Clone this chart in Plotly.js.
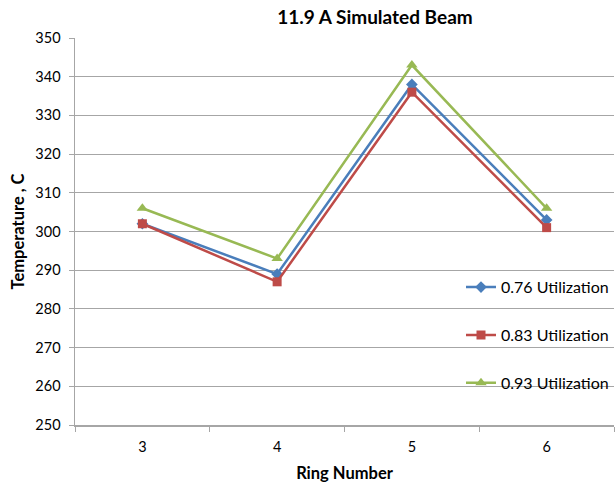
<!DOCTYPE html>
<html>
<head>
<meta charset="utf-8">
<script src="https://cdn.plot.ly/plotly-3.0.1.min.js"></script>
<style>html,body{margin:0;padding:0;background:#fff;}#chart{width:615px;height:483px;}</style>
</head>
<body>
<div id="chart"></div>
<script>
const rings = ['3', '4', '5', '6'];
const util076 = [302, 289, 338, 303];
const util083 = [302, 287, 336, 301];
const util093 = [306, 293, 343, 306];
const seriesNames = ['0.76 Utilization', '0.83 Utilization', '0.93 Utilization'];
const yTicks = [250, 260, 270, 280, 290, 300, 310, 320, 330, 340, 350];

const FONT = 'Lato, "Open Sans", "Liberation Sans", sans-serif';

const traces = [
  {x: rings, y: util076, name: seriesNames[0], legendgroup: 'a', mode: 'lines+markers', type: 'scatter',
   line: {color: '#4A7EBB', width: 2.5}, marker: {symbol: 'diamond', size: 9, color: '#4A7EBB'}},
  {x: rings, y: util083, name: seriesNames[1], legendgroup: 'b', mode: 'lines+markers', type: 'scatter',
   line: {color: '#BE4B48', width: 2.5}, marker: {symbol: 'square', size: 9, color: '#BE4B48'}},
  {x: rings, y: util093, name: seriesNames[2], legendgroup: 'c', mode: 'lines+markers', type: 'scatter',
   line: {color: '#98B954', width: 2.5}, marker: {symbol: 'triangle-up', size: 10, color: '#98B954'}}
];

const layout = {
  width: 615, height: 483,
  margin: {l: 75, r: 1, t: 38, b: 58},
  paper_bgcolor: '#fff', plot_bgcolor: '#fff',
  font: {family: FONT, size: 14, color: '#000'},
  title: {text: '<b>11.9 A Simulated Beam</b>', font: {family: FONT, size: 19, color: '#000'},
          x: 375 / 615, xanchor: 'center', y: 1 - 17 / 483, yanchor: 'middle'},
  xaxis: {type: 'category', categoryorder: 'array', categoryarray: rings,
          range: [-0.5, 3.5], showgrid: false, zeroline: false,
          showline: true, linecolor: '#A6A6A6', linewidth: 1.5,
          ticks: 'outside', tickson: 'boundaries', ticklen: 5, tickcolor: '#A6A6A6', tickwidth: 1,
          ticklabelstandoff: 8,
          tickfont: {family: FONT, size: 14.5, color: '#000'},
          title: {text: '<b>Ring Number</b>', font: {family: FONT, size: 16.5, color: '#000'}, standoff: 14}},
  yaxis: {range: [250, 350], tickvals: yTicks, showgrid: true, gridcolor: '#A6A6A6', gridwidth: 1,
          zeroline: false, showline: true, linecolor: '#A6A6A6', linewidth: 1.5,
          ticks: 'outside', ticklen: 5, tickcolor: '#A6A6A6', tickwidth: 1,
          ticklabelstandoff: 5,
          tickfont: {family: FONT, size: 14.5, color: '#000'},
          title: {text: '<b>Temperature , C</b>', font: {family: FONT, size: 16.5, color: '#000'}, standoff: 6}},
  legend: {x: 1, xanchor: 'right', y: 0.40, yanchor: 'top', bgcolor: 'rgba(0,0,0,0)',
           traceorder: 'grouped', tracegroupgap: 24,
           font: {family: FONT, size: 16, color: '#000'}, itemwidth: 30},
  showlegend: true
};

Plotly.newPlot('chart', traces, layout, {displayModeBar: false, staticPlot: true});
</script>
</body>
</html>
